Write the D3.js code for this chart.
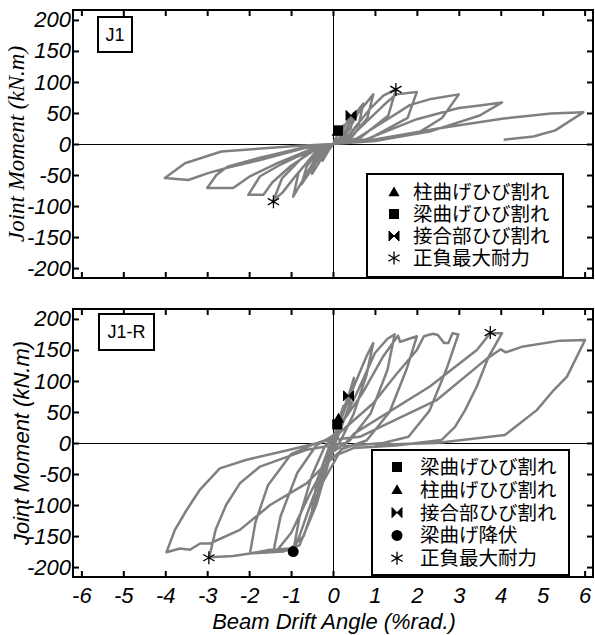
<!DOCTYPE html>
<html>
<head>
<meta charset="utf-8">
<script src="https://cdn.jsdelivr.net/npm/d3@7"></script>
<style>
body { margin: 0; background: #fff; }
.tick text { font-family: "Liberation Sans", Arial, sans-serif; font-style: italic; font-size: 22px; fill: #000; }
.tick line { stroke: #000; stroke-width: 2; }
</style>
</head>
<body>
<svg id="chart" width="595" height="635"></svg>
<script>
// axis ticks
var xTicks = [-6, -5, -4, -3, -2, -1, 0, 1, 2, 3, 4, 5, 6];
var yTicks = [-200, -150, -100, -50, 0, 50, 100, 150, 200];

// J1 hysteresis: [drift %rad, moment kN.m]
var j1Curve = [
  [0,0],[0.1,14],[0.25,30],[0.2,14],[0.05,2],[0,0],
  [-0.1,-10],[-0.25,-27],[-0.2,-12],[-0.05,-2],[0,0],
  [0.15,10],[0.3,32],[0.5,50],[0.42,25],[0.15,5],[0,0],
  [-0.15,-8],[-0.35,-32],[-0.5,-48],[-0.42,-24],[-0.15,-5],[0,0],
  [0.2,8],[0.45,42],[0.72,65],[0.62,32],[0.3,8],[0,0],
  [-0.2,-8],[-0.5,-40],[-0.75,-65],[-0.62,-35],[-0.28,-8],[0,0],
  [0.25,8],[0.6,50],[0.96,80],[0.82,42],[0.42,9],[0,0],
  [-0.28,-8],[-0.65,-50],[-0.95,-85],[-0.82,-46],[-0.38,-10],[0,0],
  [0.3,8],[0.9,58],[1.2,78],[1.5,88],[1.32,46],[0.65,10],[0,0],
  [-0.35,-8],[-0.9,-52],[-1.2,-78],[-1.42,-91],[-1.22,-56],[-0.62,-14],[0,0],
  [0.35,7],[1.2,62],[1.5,80],[2.0,84],[1.78,42],[0.85,8],[0,0],
  [-0.4,-6],[-1.3,-35],[-1.74,-52],[-2.02,-82],[-1.66,-82],[-1.45,-62],[-1.0,-35],[-0.4,-8],[0,0],
  [0.5,6],[1.3,40],[1.84,63],[2.3,72],[3.0,80],[2.6,42],[2.08,20],[0.9,5],[0,0],
  [-0.6,-4],[-1.74,-22],[-2.5,-36],[-2.78,-50],[-3.0,-71],[-2.38,-71],[-1.98,-52],[-1.3,-30],[-0.5,-8],[0,0],
  [0.7,5],[2.0,40],[3.0,58],[3.5,62],[4.03,67],[3.5,46],[2.3,20],[1.0,5],[0,0],
  [-0.8,-3],[-2.66,-12],[-3.53,-31],[-4.01,-55],[-3.45,-58],[-2.98,-47],[-2.5,-38],[-1.74,-26],[-0.7,-7],[0,0],
  [0.72,4],[2.5,25],[4.07,41],[5.2,49],[5.97,51],[5.3,22],[4.78,12],[4.07,7]
];

// J1-R hysteresis
var j1rCurve = [
  [0,0],[0.1,30],[0.25,60],[0.15,28],[0.02,2],
  [-0.1,-28],[-0.25,-60],[-0.15,-28],[-0.02,-2],
  [0.1,28],[0.37,76],[0.5,105],[0.38,58],[0.1,8],
  [-0.12,-30],[-0.35,-78],[-0.5,-108],[-0.38,-60],[-0.1,-8],
  [0.1,22],[0.5,92],[0.8,140],[0.96,161],[0.8,110],[0.5,48],[0.2,6],
  [-0.1,-25],[-0.5,-92],[-0.8,-150],[-0.95,-175],[-0.8,-120],[-0.5,-52],[-0.2,-6],
  [0.1,16],[0.6,85],[1.0,145],[1.3,168],[1.47,175],[1.3,118],[0.9,48],[0.4,4],
  [0,-14],[-0.5,-75],[-1.0,-145],[-1.3,-170],[-1.42,-175],[-1.25,-118],[-0.85,-48],[-0.4,-4],
  [0,12],[0.7,80],[1.2,140],[1.55,173],[1.6,163],[1.73,166],[2.0,172],[1.75,118],[1.35,50],[0.8,4],
  [0.2,-10],[-0.3,-70],[-0.7,-150],[-1.0,-170],[-1.5,-172],[-1.98,-178],[-1.85,-128],[-1.55,-68],[-1.0,-18],[-0.5,-3],
  [0.05,10],[0.96,64],[1.5,110],[2.0,150],[2.17,172],[2.38,176],[2.5,174],[2.65,161],[2.75,161],[2.85,177],[2.99,175],[2.7,118],[2.3,52],[1.8,10],[1.2,0],
  [0.3,-5],[-0.1,-30],[-0.4,-100],[-0.8,-165],[-1.19,-175],[-1.98,-178],[-2.38,-182],[-2.95,-184],[-2.8,-140],[-2.55,-100],[-2.22,-65],[-1.74,-38],[-0.63,-11],[0.3,0],
  [0.52,16],[2.31,91],[3.43,150],[3.75,177],[4.03,177],[3.71,139],[3.43,91],[3.15,53],[2.91,26],[2.59,5],[1.5,-4],
  [0.5,-8],[0,-22],[-0.63,-65],[-1.5,-100],[-2.22,-140],[-2.94,-162],[-3.17,-162],[-3.41,-172],[-3.65,-170],[-3.97,-176],[-3.77,-140],[-3.49,-108],[-3.17,-75],[-2.7,-41],[-2.06,-27],[-1.03,-11],[-0.07,5],
  [0.64,10],[2.47,69],[3.67,136],[4.0,151],[4.12,146],[4.5,155],[5.42,165],[6.01,166],[5.58,107],[5.26,85],[4.86,53],[4.1,13],[2.47,0],[1.0,-3]
];

// event markers: [type, drift, moment]
var j1Events = [
  ["tri", 0.1, 20], ["sq", 0.12, 22], ["bow", 0.43, 46],
  ["star", 1.5, 88], ["star", -1.42, -93]
];
var j1rEvents = [
  ["tri", 0.13, 40], ["sq", 0.1, 30], ["bow", 0.37, 76],
  ["circ", -0.95, -175], ["star", 3.75, 178], ["star", -2.96, -185]
];

var j1Legend = [["tri", "柱曲げひび割れ"], ["sq", "梁曲げひび割れ"], ["bow", "接合部ひび割れ"], ["star", "正負最大耐力"]];
var j1rLegend = [["sq", "梁曲げひび割れ"], ["tri", "柱曲げひび割れ"], ["bow", "接合部ひび割れ"], ["circ", "梁曲げ降伏"], ["star", "正負最大耐力"]];

var svg = d3.select("#chart");
var left = 73, right = 593;

function marker(g, type, cx, cy) {
  if (type == "tri") {
    g.append("path").attr("d", d3.symbol(d3.symbolTriangle, 55)())
      .attr("transform", "translate(" + cx + "," + (cy + 1) + ")").attr("fill", "#000");
  } else if (type == "sq") {
    g.append("rect").attr("x", cx - 5).attr("y", cy - 5).attr("width", 10).attr("height", 10).attr("fill", "#000");
  } else if (type == "bow") {
    g.append("path").attr("d", "M-5,-5L0,0L-5,5ZM5,-5L0,0L5,5Z")
      .attr("transform", "translate(" + cx + "," + cy + ")").attr("fill", "#000")
      .attr("stroke", "#000").attr("stroke-width", 1);
  } else if (type == "circ") {
    g.append("circle").attr("cx", cx).attr("cy", cy).attr("r", 5.5).attr("fill", "#000");
  } else {
    g.append("path").attr("d", d3.symbol(d3.symbolAsterisk, 120)())
      .attr("transform", "translate(" + cx + "," + cy + ")")
      .attr("fill", "none").attr("stroke", "#000").attr("stroke-width", 1.3);
  }
}

function drawPanel(p) {
  var x = d3.scaleLinear().domain([-6.2, 6.2]).range([left, right]);
  var y = d3.scaleLinear().domain([-216, 216]).range([p.bottom, p.top]);
  var g = svg.append("g");

  // zero lines
  var y0 = Math.round(y(0)) + 0.5, x0 = Math.round(x(0)) + 0.5;
  g.append("line").attr("x1", left).attr("x2", right).attr("y1", y0).attr("y2", y0)
    .attr("stroke", "#000").attr("stroke-width", 1);
  g.append("line").attr("x1", x0).attr("x2", x0).attr("y1", p.top).attr("y2", p.bottom)
    .attr("stroke", "#000").attr("stroke-width", 1);

  var line = d3.line().x(function(d) { return x(d[0]); }).y(function(d) { return y(d[1]); });
  g.append("path").datum(p.curve).attr("d", line)
    .attr("fill", "none").attr("stroke", "#808080").attr("stroke-width", 2.5)
    .attr("stroke-linejoin", "round");

  p.events.forEach(function(e) { marker(g, e[0], x(e[1]), y(e[2])); });

  // axes, ticks inward
  g.append("g").attr("transform", "translate(" + left + ",0)")
    .call(d3.axisLeft(y).tickValues(yTicks).tickSize(-6).tickPadding(2).tickFormat(function(d) { return String(d); }));
  g.append("g").attr("transform", "translate(" + right + ",0)")
    .call(d3.axisRight(y).tickValues(yTicks).tickSize(-6).tickFormat(""));
  g.append("g").attr("transform", "translate(0," + p.top + ")")
    .call(d3.axisTop(x).tickValues(xTicks).tickSize(-6).tickFormat(""));
  g.append("g").attr("transform", "translate(0," + p.bottom + ")")
    .call(d3.axisBottom(x).tickValues(xTicks).tickSize(-6).tickPadding(10)
      .tickFormat(p.xLabels ? function(d) { return String(d); } : ""));
  g.selectAll(".domain").remove();

  g.append("rect").attr("x", left).attr("y", p.top).attr("width", right - left).attr("height", p.bottom - p.top)
    .attr("fill", "none").attr("stroke", "#000").attr("stroke-width", 2);

  // legend
  var lg = p.legend;
  g.append("rect").attr("x", lg.x).attr("y", lg.y).attr("width", lg.w).attr("height", lg.h)
    .attr("fill", "#fff").attr("stroke", "#000").attr("stroke-width", 2);
  p.legendItems.forEach(function(it, i) {
    var cy = lg.row0 + i * lg.step;
    marker(g, it[0], lg.mx, cy);
    g.append("text").attr("x", lg.tx).attr("y", cy).attr("dy", "0.36em")
      .attr("font-family", "'Noto Sans CJK JP', sans-serif").attr("font-size", 19.5)
      .text(it[1]);
  });

  // specimen label
  var b = p.tag;
  g.append("rect").attr("x", b.x).attr("y", b.y).attr("width", b.w).attr("height", b.h)
    .attr("fill", "#fff").attr("stroke", "#000").attr("stroke-width", 2);
  g.append("text").attr("x", b.x + b.w / 2).attr("y", b.y + b.h / 2).attr("dy", "0.36em")
    .attr("text-anchor", "middle").attr("font-family", "'Liberation Sans', Arial, sans-serif")
    .attr("font-size", 18).text(b.text);

  // y title
  g.append("text").attr("transform", "translate(" + p.ytitle.x + "," + y(0) + ") rotate(-90)")
    .attr("text-anchor", "middle").attr("font-family", p.ytitle.font)
    .attr("font-style", "italic").attr("font-size", p.ytitle.size)
    .text("Joint Moment (kN.m)");
}

drawPanel({
  top: 10, bottom: 278, curve: j1Curve, events: j1Events, xLabels: false,
  legend: { x: 367, y: 174, w: 196, h: 103, row0: 192, step: 22, mx: 394, tx: 413 },
  legendItems: j1Legend,
  tag: { x: 98, y: 17, w: 34, h: 35, text: "J1" },
  ytitle: { x: 24, font: "'Liberation Serif', 'Times New Roman', serif", size: 23 }
});

drawPanel({
  top: 309, bottom: 577, curve: j1rCurve, events: j1rEvents, xLabels: true,
  legend: { x: 372, y: 450, w: 197, h: 125, row0: 467, step: 22.8, mx: 397, tx: 420 },
  legendItems: j1rLegend,
  tag: { x: 99, y: 314, w: 55, h: 36, text: "J1-R" },
  ytitle: { x: 29, font: "'Liberation Sans', Arial, sans-serif", size: 22 }
});

svg.append("text").attr("x", 334).attr("y", 629).attr("text-anchor", "middle")
  .attr("font-family", "'Liberation Sans', Arial, sans-serif").attr("font-style", "italic")
  .attr("font-size", 22).text("Beam Drift Angle (%rad.)");
</script>
</body>
</html>
